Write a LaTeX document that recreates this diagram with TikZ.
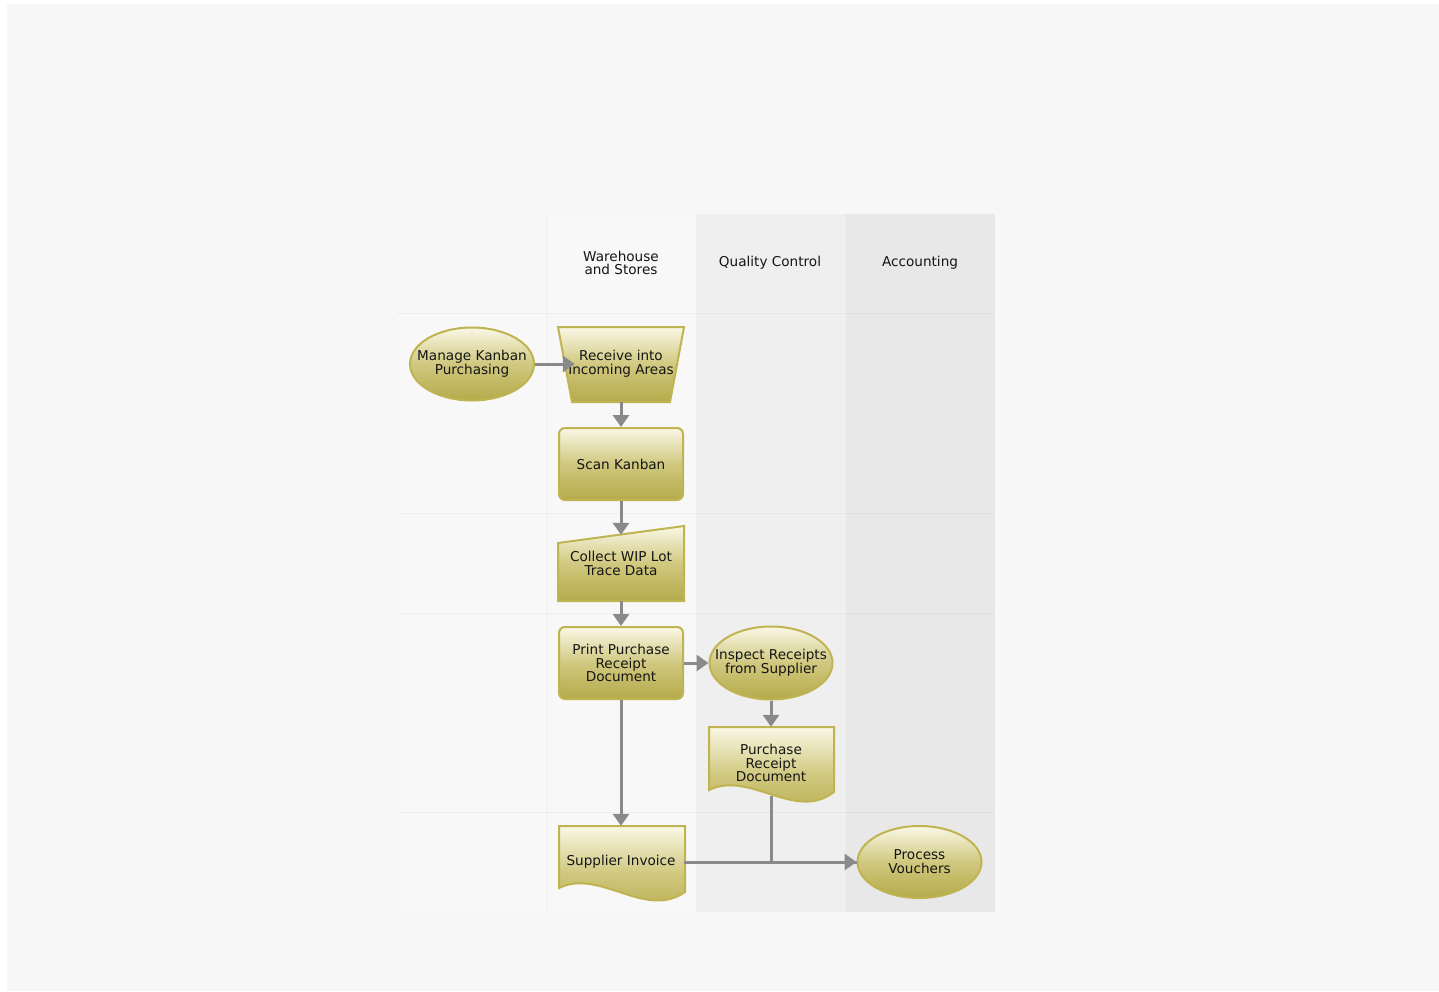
\documentclass[tikz,border=0pt]{standalone}
\usepackage{fontspec}
\setmainfont{DejaVu Sans}
\usetikzlibrary{arrows.meta,shapes.geometric}
\definecolor{panelbg}{HTML}{F7F7F7}
\definecolor{whlane}{HTML}{F8F8F8}
\definecolor{qclane}{HTML}{EFEFEF}
\definecolor{aclane}{HTML}{E8E8E8}
\definecolor{olivebd}{HTML}{C0B452}
\definecolor{fillTop}{HTML}{FAF8E6}
\definecolor{fillMid}{HTML}{D0C87F}
\definecolor{fillBot}{HTML}{B5AA4A}
\definecolor{conngray}{HTML}{8A8A8A}
\definecolor{txt}{HTML}{151515}
\tikzset{
  shapefill/.style={draw=olivebd, line width=2, top color=fillTop, bottom color=fillBot, middle color=fillMid},
  lbl/.style={text=txt, align=center, font=\fontsize{13.6}{13.8}\selectfont, inner sep=0},
  ellnode/.style={shapefill, lbl, ellipse, inner xsep=-18pt, inner ysep=0pt, minimum width=124, minimum height=73},
  boxnode/.style={shapefill, lbl, rectangle, rounded corners=6, minimum width=124, minimum height=72},
  ghost/.style={lbl, rectangle},
  conn/.style={draw=conngray, line width=3, -{Triangle[length=12,width=16]}},
  plainconn/.style={draw=conngray, line width=3},
  rowline/.style={draw=black, opacity=0.035, line width=1},
}
\begin{document}
\begin{tikzpicture}[x=1pt,y=-1pt]
\useasboundingbox (0,0) rectangle (1439,991);
\fill[white] (0,0) rectangle (1439,991);
\fill[panelbg] (7,4) rectangle (1439,991);
% lanes
\fill[whlane] (547,214) rectangle (696,912);
\fill[whlane] (397,313) rectangle (547,912);
\fill[qclane] (696,214) rectangle (846,912);
\fill[aclane] (846,214) rectangle (995,912);
\foreach \yy in {313,513,613,812}{\draw[rowline] (397,\yy) -- (995,\yy);}
\draw[rowline] (547,214) -- (547,912);
\node[lbl] (hwh) at (621,263) {Warehouse\\and Stores};
\node[lbl] (hqc) at (770,263) {Quality Control};
\node[lbl] (hac) at (920,263) {Accounting};

% shapes
\node[ellnode] (mk) at (472,364) {Manage Kanban\\Purchasing};

\path[shapefill] (558,327) -- (684,327) -- (670,402) -- (572,402) -- cycle;
\node[ghost, minimum width=126, minimum height=75] (recv) at (621,364) {Receive into\\Incoming Areas};

\node[boxnode] (scan) at (621,464) {Scan Kanban};

\path[shapefill] (558,543) -- (684,526) -- (684,601) -- (558,601) -- cycle;
\node[ghost, minimum width=126, minimum height=75] (coll) at (621,563.5) {Collect WIP Lot\\Trace Data};

\node[boxnode] (print) at (621,663) {Print Purchase\\Receipt\\Document};

\node[ellnode, minimum width=123] (insp) at (771,663) {Inspect Receipts\\from Supplier};

\path[shapefill] (709,727) -- (834,727) -- (834,792) .. controls (795,822) and (750,770) .. (709,790) -- cycle;
\node[ghost, minimum width=125, minimum height=72] (prd) at (771,763) {Purchase\\Receipt\\Document};

\path[shapefill] (559,826) -- (685,826) -- (685,892) .. controls (645,920) and (600,868) .. (559,888) -- cycle;
\node[ghost, minimum width=126, minimum height=72] (inv) at (621,862) {Supplier Invoice};

\node[ellnode, minimum height=72] (pv) at (919.5,862) {Process\\Vouchers};

% connectors
\draw[conn] (mk.east) -- ([xshift=17]recv.west);
\draw[conn] (recv.south) -- (scan.north);
\draw[conn] (scan.south) -- ([yshift=-9]coll.north);
\draw[conn] (coll.south) -- (print.north);
\draw[conn] (print.east) -- (insp.west);
\draw[conn] (insp.south) -- (prd.north);
\draw[conn] (print.south) -- (inv.north);
\draw[conn] (inv.east) -- (pv.west);
\draw[plainconn] ([yshift=3]prd.south) |- (pv.west);
\end{tikzpicture}
\end{document}
